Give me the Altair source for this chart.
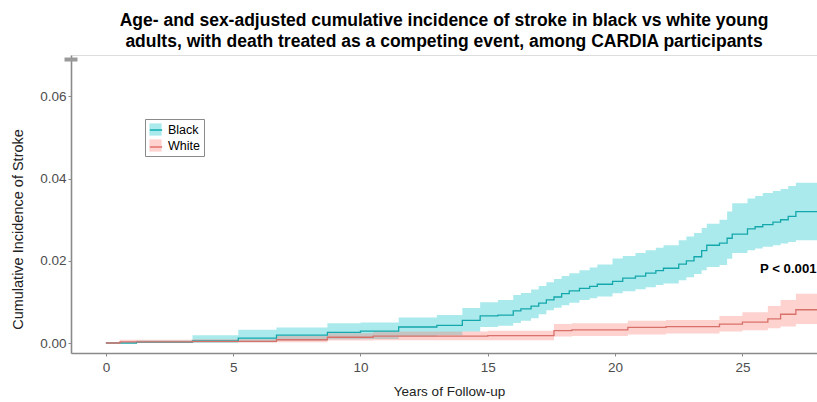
import altair as alt
import pandas as pd

# ---- data ----
groups = ["Black", "White"]

black_t = [0, 1.2, 3.4, 5.2, 6.7, 8.7, 10.0, 11.5, 13.0, 14.0, 14.7, 15.4, 16.0, 16.3, 16.7,
           17.0, 17.3, 17.6, 17.9, 18.2, 18.6, 19.0, 19.3, 19.9, 20.3, 20.8, 21.2, 21.6, 21.9,
           22.5, 22.8, 23.1, 23.4, 23.6, 24.1, 24.4, 24.6, 25.2, 25.5, 25.8, 26.2, 26.5, 26.8,
           27.1, 27.93]
black_est = [0, 0.0002, 0.0005, 0.0012, 0.0019, 0.0026, 0.0029, 0.0039, 0.0043, 0.0055, 0.0066,
             0.0068, 0.0078, 0.0083, 0.0090, 0.0097, 0.0105, 0.0112, 0.0120, 0.0127, 0.0133,
             0.0138, 0.0143, 0.0150, 0.0158, 0.0163, 0.0170, 0.0176, 0.0182, 0.0192, 0.0200,
             0.0210, 0.0225, 0.0238, 0.0243, 0.0255, 0.0265, 0.0278, 0.0283, 0.0288, 0.0294,
             0.0300, 0.0308, 0.0320, 0.0320]
black_hi = [0, 0.0006, 0.0019, 0.0032, 0.0038, 0.0048, 0.0050, 0.0062, 0.0068, 0.0085, 0.0099,
            0.0105, 0.0117, 0.0122, 0.0130, 0.0139, 0.0148, 0.0156, 0.0163, 0.0170, 0.0177,
            0.0184, 0.0191, 0.0206, 0.0212, 0.0219, 0.0226, 0.0232, 0.0238, 0.0250, 0.0259,
            0.0268, 0.0280, 0.0290, 0.0300, 0.0320, 0.0340, 0.0352, 0.0358, 0.0365, 0.0370,
            0.0375, 0.0382, 0.0390, 0.0390]
black_lo = [0, 0, 0, 0.0002, 0.0006, 0.0009, 0.0010, 0.0016, 0.0019, 0.0028, 0.0039, 0.0042,
            0.0049, 0.0054, 0.0060, 0.0070, 0.0080, 0.0086, 0.0092, 0.0098, 0.0105, 0.0109,
            0.0113, 0.0121, 0.0126, 0.0131, 0.0136, 0.0141, 0.0145, 0.0153, 0.0160, 0.0168,
            0.0177, 0.0185, 0.0190, 0.0205, 0.0219, 0.0226, 0.0230, 0.0234, 0.0238, 0.0242,
            0.0246, 0.0250, 0.0250]

white_t = [0, 0.55, 3.4, 6.7, 8.7, 10.5, 15.0, 17.6, 18.3, 20.5, 22.0, 24.1, 25.0, 26.0, 26.5,
           27.1, 27.93]
white_est = [0, 0.0003, 0.0004, 0.0008, 0.0014, 0.0017, 0.0018, 0.0030, 0.0032, 0.0038, 0.0040,
             0.0046, 0.0051, 0.0059, 0.0070, 0.0081, 0.0081]
white_hi = [0, 0.0008, 0.0009, 0.0017, 0.0024, 0.0028, 0.0030, 0.0046, 0.0048, 0.0054, 0.0056,
            0.0066, 0.0075, 0.0090, 0.0105, 0.0120, 0.0120]
white_lo = [0, 0.0001, 0.0001, 0.0002, 0.0006, 0.0007, 0.0007, 0.0016, 0.0017, 0.0021, 0.0023,
            0.0028, 0.0031, 0.0036, 0.0040, 0.0046, 0.0046]

x_ticks = [0, 5, 10, 15, 20, 25]
y_ticks = [0, 0.02, 0.04, 0.06]
p_label = ["P < 0.001"]
p_pos_t = [25.69]
p_pos_y = [0.0180]
break_t = [-1.37]
break_y = [0.0690]

title_lines = [
    "Age- and sex-adjusted cumulative incidence of stroke in black vs white young",
    "adults, with death treated as a competing event, among CARDIA participants",
]

# ---- tables ----
rows = []
for t, e, lo, hi in zip(black_t, black_est, black_lo, black_hi):
    rows.append({"t": t, "est": e, "lo": lo, "hi": hi, "group": "Black", "grp": "Black"})
for t, e, lo, hi in zip(white_t, white_est, white_lo, white_hi):
    rows.append({"t": t, "est": e, "lo": lo, "hi": hi, "group": "White", "grp": "White"})
df = pd.DataFrame(rows)
df_p = pd.DataFrame({"t": p_pos_t, "y": p_pos_y, "label": p_label})
df_b = pd.DataFrame({"t": break_t, "y": break_y})

FONT = "Liberation Sans"
xscale = alt.Scale(domain=[-1.37, 27.93], nice=False, zero=False)
yscale = alt.Scale(domain=[-0.00243, 0.0701], nice=False, zero=False)

xaxis = alt.Axis(values=x_ticks, title="Years of Follow-up", grid=False,
                 domainColor="#8a8a8a", domainWidth=1.6, tickColor="#8a8a8a", tickSize=3,
                 labelFontSize=13.5, labelColor="#4D4D4D", labelPadding=4, labelFont=FONT,
                 titleFont=FONT, titleFontSize=13.5, titleFontWeight="normal", titleColor="#222",
                 titleX=378, titleY=42.5, titleBaseline="alphabetic", titleAnchor="middle")
yaxis = alt.Axis(values=y_ticks, format=".2f", title="Cumulative Incidence of Stroke",
                 grid=False, domainColor="#8a8a8a", domainWidth=1.6, tickColor="#8a8a8a",
                 tickSize=3, labelFontSize=13.5, labelColor="#4D4D4D", labelPadding=2,
                 labelFont=FONT, titleFont=FONT, titleFontSize=14.5, titleFontWeight="normal",
                 titleColor="#222", titleX=-53, titleY=174, titleAngle=270,
                 titleBaseline="middle", titleAlign="center")

fill_colors = ["#00BFC4", "#F8766D"]
line_colors = ["#14A7AB", "#D9716B"]

area = alt.Chart(df).mark_area(interpolate="step-after", fillOpacity=0.33).encode(
    x=alt.X("t:Q", scale=xscale, axis=xaxis),
    y=alt.Y("lo:Q", scale=yscale, axis=yaxis),
    y2="hi:Q",
    fill=alt.Fill("group:N", scale=alt.Scale(domain=groups, range=fill_colors),
                  legend=alt.Legend(title=None, orient="none", legendX=74, legendY=64,
                                    symbolType="square", symbolSize=150, symbolOpacity=0.33,
                                    symbolStrokeWidth=0, labelFontSize=12.5, labelFont=FONT,
                                    labelColor="black", strokeColor="#8a8a8a", padding=4,
                                    rowPadding=3, labelOffset=6)),
)

line = alt.Chart(df).mark_line(interpolate="step-after", strokeWidth=1.3).encode(
    x=alt.X("t:Q", scale=xscale, axis=xaxis),
    y=alt.Y("est:Q", scale=yscale, axis=yaxis),
    stroke=alt.Stroke("grp:N", scale=alt.Scale(range=line_colors),
                      legend=alt.Legend(title=None, orient="none", legendX=74, legendY=64,
                                        symbolType="stroke", symbolSize=150,
                                        symbolStrokeWidth=1.5, labelFontSize=12.5,
                                        labelFont=FONT, labelOpacity=0, padding=4,
                                        rowPadding=3, labelOffset=6)),
)

ptext = alt.Chart(df_p).mark_text(align="left", baseline="middle", fontSize=13.2,
                                  fontWeight="bold", font=FONT, color="black").encode(
    x=alt.X("t:Q", scale=xscale), y=alt.Y("y:Q", scale=yscale), text="label:N")

brk = alt.Chart(df_b).mark_tick(orient="horizontal", size=13, thickness=4,
                                color="#9a9a9a", opacity=1).encode(
    x=alt.X("t:Q", scale=xscale), y=alt.Y("y:Q", scale=yscale))

chart = alt.layer(area, line, ptext, brk).resolve_scale(fill="independent").properties(
    width=746, height=298,
    title=alt.TitleParams(text=title_lines, fontSize=17.5, fontWeight="bold", font=FONT,
                          color="black", anchor="middle", lineHeight=21, offset=5),
    autosize=alt.AutoSizeParams(type="none"),
    padding={"left": 71, "top": 55, "right": 0, "bottom": 49},
).configure_view(stroke=None).configure(background="white")

chart.save("out.html", embed_options={"renderer": "svg", "actions": False})
